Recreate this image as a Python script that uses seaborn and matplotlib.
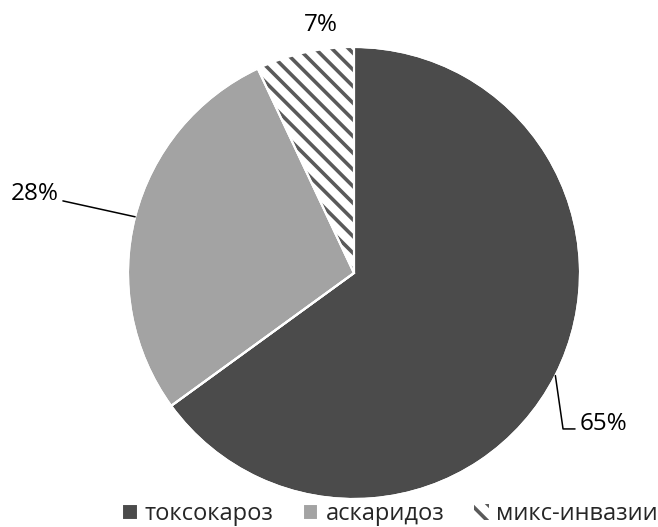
import numpy as np
import matplotlib
matplotlib.use("Agg")
import matplotlib.pyplot as plt
import seaborn as sns

# Share of cases by type of invasion
categories = ["токсокароз", "аскаридоз", "микс-инвазии"]
shares = [65, 28, 7]
colors = ["#4b4b4b", "#a3a3a3", "#ffffff"]
hatches = [None, None, "\\\\"]

sns.set_theme(style="white")
plt.rcParams["font.family"] = ["Open Sans", "DejaVu Sans"]
plt.rcParams["hatch.linewidth"] = 2.6
plt.rcParams["hatch.color"] = "#5a5a5a"

W, H = 658, 527
fig = plt.figure(figsize=(W / 100, H / 100), dpi=100)
cx, cy, r = 354, 273, 226
ax = fig.add_axes([(cx - r) / W, (H - cy - r) / H, 2 * r / W, 2 * r / H])

wedges, _ = ax.pie(shares, colors=colors, startangle=90, counterclock=False,
                   radius=1.0, wedgeprops=dict(edgecolor="white", linewidth=1.5))

# striped slice: hatch takes the edge colour, so redraw its outline in white on top
for w, h in zip(wedges, hatches):
    if h:
        w.set_hatch(h)
        w.set_edgecolor("#5a5a5a")
        w.set_linewidth(0)
for w in wedges:
    outline = matplotlib.patches.Wedge(w.center, w.r, w.theta1, w.theta2,
                                       fill=False, edgecolor="white", linewidth=1.5)
    ax.add_patch(outline)

ax.set_xlim(-1, 1)
ax.set_ylim(-1, 1)
ax.set_aspect("equal")
ax.axis("off")

labels = [f"{v}%" for v in shares]
fs = 17.5

def mid_point(w):
    a = np.deg2rad((w.theta1 + w.theta2) / 2)
    return np.cos(a), np.sin(a)

# 65% — leader line down and to the right
mx, my = mid_point(wedges[0])
ax.plot([mx, 0.925, 0.978], [my, -0.690, -0.690], color="black", lw=1.1, clip_on=False)
ax.text(1.0, -0.668, labels[0], ha="left", va="center", fontsize=fs, color="black")

# 28% — leader line to the left
mx, my = mid_point(wedges[1])
ax.plot([mx, -1.288], [my, 0.319], color="black", lw=1.1, clip_on=False)
ax.text(-1.305, 0.35, labels[1], ha="right", va="center", fontsize=fs, color="black")

# 7% — above the slice
ax.text(-0.146, 1.097, labels[2], ha="center", va="center", fontsize=fs, color="black")

fig.legend(wedges, categories, loc="center", bbox_to_anchor=(390 / W, 1 - 514 / H),
           ncol=3, frameon=False, fontsize=17, handlelength=0.65, handleheight=0.65,
           handletextpad=0.3, columnspacing=1.25, borderaxespad=0, borderpad=0)

fig.savefig("out.png", dpi=100)
